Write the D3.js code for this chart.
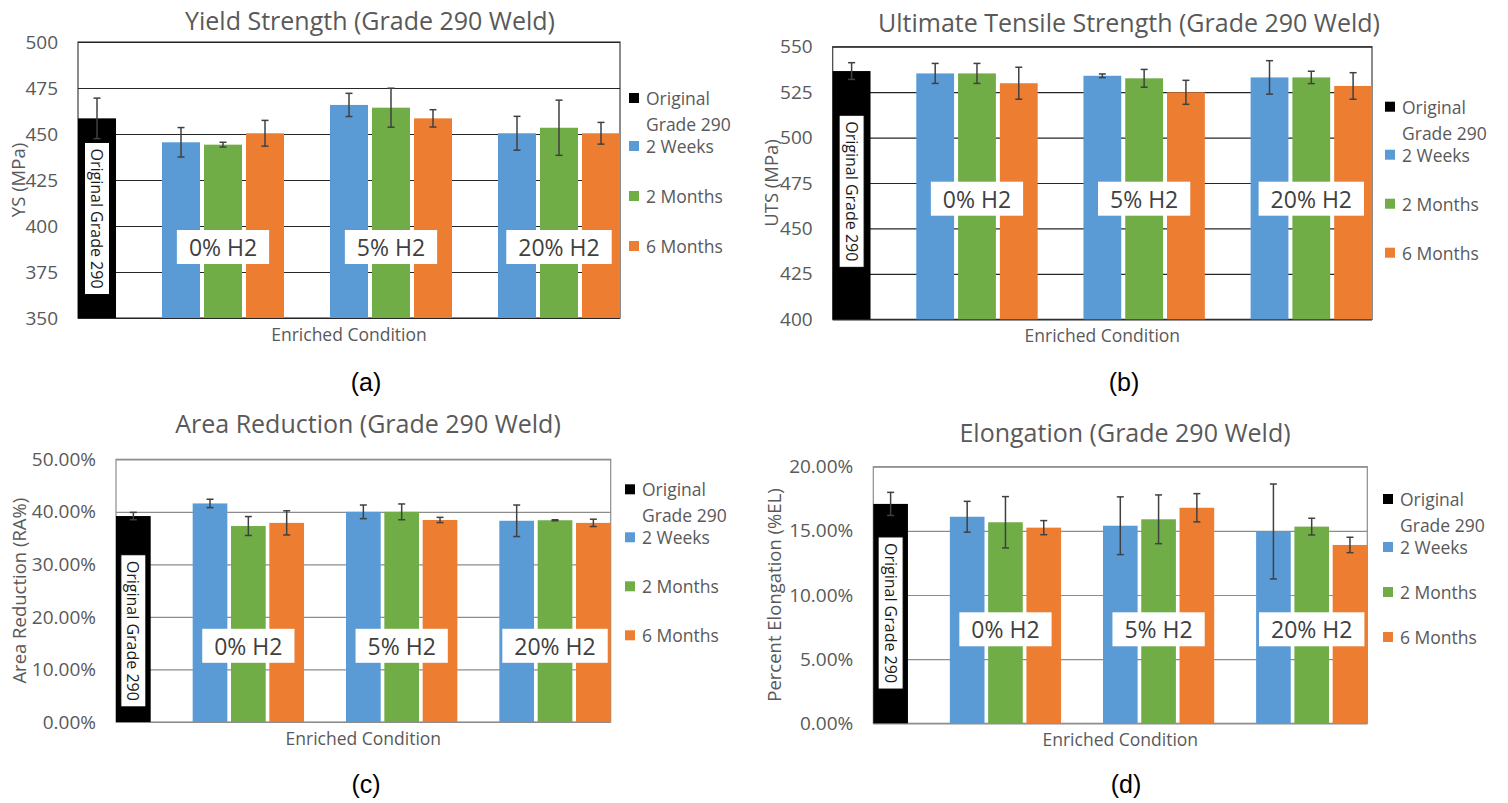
<!DOCTYPE html>
<html>
<head>
<meta charset="utf-8">
<script src="https://cdn.jsdelivr.net/npm/d3@7"></script>
<style>
  html, body { margin: 0; padding: 0; background: #fff; }
  svg { display: block; }
  text { font-family: "Open Sans", "Noto Sans", sans-serif; }
</style>
</head>
<body>
<svg id="fig" width="1508" height="803"></svg>
<script>
// ---- Data -----------------------------------------------------------------
const conditions = ["0% H2", "5% H2", "20% H2"];
const exposures = ["2 Weeks", "2 Months", "6 Months"];
const baselineName = "Original Grade 290";

// Yield strength, MPa
const ysOriginal = 458.5, ysOriginalErr = 11;
const ys2Weeks = [445.5, 465.8, 450.4];
const ys2WeeksErr = [8, 6.3, 9.2];
const ys2Months = [444.2, 464.3, 453.4];
const ys2MonthsErr = [1.3, 10.6, 15];
const ys6Months = [450.4, 458.5, 450.4];
const ys6MonthsErr = [7, 4.7, 5.9];
const ysTicks = [350, 375, 400, 425, 450, 475, 500];

// Ultimate tensile strength, MPa
const utsOriginal = 536.6, utsOriginalErr = 4.6;
const uts2Weeks = [535.3, 534.0, 533.1];
const uts2WeeksErr = [5.5, 1.0, 9.2];
const uts2Months = [535.3, 532.6, 533.1];
const uts2MonthsErr = [5.5, 4.9, 3.4];
const uts6Months = [529.9, 524.9, 528.4];
const uts6MonthsErr = [8.8, 6.6, 7.3];
const utsTicks = [400, 425, 450, 475, 500, 525, 550];

// Area reduction, fraction
const raOriginal = 0.392, raOriginalErr = 0.007;
const ra2Weeks = [0.416, 0.400, 0.383];
const ra2WeeksErr = [0.008, 0.013, 0.030];
const ra2Months = [0.373, 0.400, 0.384];
const ra2MonthsErr = [0.018, 0.015, 0.001];
const ra6Months = [0.379, 0.3845, 0.379];
const ra6MonthsErr = [0.023, 0.005, 0.007];
const raTicks = [0, 0.1, 0.2, 0.3, 0.4, 0.5];

// Elongation, fraction
const elOriginal = 0.171, elOriginalErr = 0.009;
const el2Weeks = [0.161, 0.154, 0.1495];
const el2WeeksErr = [0.012, 0.0225, 0.037];
const el2Months = [0.1567, 0.159, 0.1533];
const el2MonthsErr = [0.020, 0.019, 0.0065];
const el6Months = [0.1525, 0.168, 0.139];
const el6MonthsErr = [0.0055, 0.011, 0.006];
const elTicks = [0, 0.05, 0.10, 0.15, 0.20];

// ---- Styling ----------------------------------------------------------------
const baselineColor = "#000000";
const exposureColors = ["#5B9BD5", "#70AD47", "#ED7D31"];
const textGray = "#595959";
const pct = d3.format(".2%");

// ---- Panel definitions ------------------------------------------------------
const panels = [
  {
    title: "Yield Strength (Grade 290 Weld)", yLabel: "YS (MPa)", tag: "(a)",
    original: ysOriginal, originalErr: ysOriginalErr,
    series: [ys2Weeks, ys2Months, ys6Months], errs: [ys2WeeksErr, ys2MonthsErr, ys6MonthsErr],
    ticks: ysTicks, fmt: d3.format("d"),
    layout: { x0: 78, x1: 620, y0: 42, y1: 318, titleX: 370, titleY: 20, yLabelX: 17,
              legendX: 629, legendY: 98, legendStep: 50, groupLabelY: 247, baseLabelY: 218.5,
              tagX: 366, tagY: 382, grid: "#262626", frame: "#404040" }
  },
  {
    title: "Ultimate Tensile Strength (Grade 290 Weld)", yLabel: "UTS (MPa)", tag: "(b)",
    original: utsOriginal, originalErr: utsOriginalErr,
    series: [uts2Weeks, uts2Months, uts6Months], errs: [uts2WeeksErr, uts2MonthsErr, uts6MonthsErr],
    ticks: utsTicks, fmt: d3.format("d"),
    layout: { x0: 832.7, x1: 1372, y0: 46.7, y1: 319.3, titleX: 1129, titleY: 21.7, yLabelX: 770,
              legendX: 1385, legendY: 106.7, legendStep: 49, groupLabelY: 198.7, baseLabelY: 191.3,
              tagX: 1124, tagY: 382, grid: "#262626", frame: "#404040" }
  },
  {
    title: "Area Reduction (Grade 290 Weld)", yLabel: "Area Reduction (RA%)", tag: "(c)",
    original: raOriginal, originalErr: raOriginalErr,
    series: [ra2Weeks, ra2Months, ra6Months], errs: [ra2WeeksErr, ra2MonthsErr, ra6MonthsErr],
    ticks: raTicks, fmt: pct,
    layout: { x0: 116, x1: 610.7, y0: 459.3, y1: 722, titleX: 368, titleY: 423, yLabelX: 18,
              legendX: 625, legendY: 489.3, legendStep: 49, groupLabelY: 645.8, baseLabelY: 630.8,
              tagX: 366, tagY: 784, grid: "#8c8c8c", frame: "#8c8c8c" }
  },
  {
    title: "Elongation (Grade 290 Weld)", yLabel: "Percent Elongation (%EL)", tag: "(d)",
    original: elOriginal, originalErr: elOriginalErr,
    series: [el2Weeks, el2Months, el6Months], errs: [el2WeeksErr, el2MonthsErr, el6MonthsErr],
    ticks: elTicks, fmt: pct,
    layout: { x0: 873.3, x1: 1367.3, y0: 466.7, y1: 723.3, titleX: 1125, titleY: 432, yLabelX: 773,
              legendX: 1383, legendY: 499, legendStep: 45, groupLabelY: 629.3, baseLabelY: 613,
              tagX: 1126, tagY: 784, grid: "#8c8c8c", frame: "#8c8c8c" }
  }
];

const svg = d3.select("#fig");

panels.forEach(p => drawPanel(p));

function drawPanel(p) {
  const L = p.layout;
  const g = svg.append("g");

  // Bar slots: slot 0 holds the baseline bar, each condition takes three
  // adjacent slots with one empty slot before it.
  const slots = d3.range(3 * conditions.length + 4);
  const x = d3.scaleBand().domain(slots).range([L.x0, L.x1]).paddingInner(0.095).paddingOuter(0);
  const y = d3.scaleLinear().domain(d3.extent(p.ticks)).range([L.y1, L.y0]);

  const bars = [{ slot: 0, value: p.original, err: p.originalErr, color: baselineColor }];
  conditions.forEach((c, ci) => {
    exposures.forEach((e, si) => {
      bars.push({ slot: 2 + 4 * ci + si, value: p.series[si][ci], err: p.errs[si][ci],
                  color: exposureColors[si], cond: ci });
    });
  });

  // Plot frame
  g.append("rect")
    .attr("x", L.x0).attr("y", L.y0)
    .attr("width", L.x1 - L.x0).attr("height", L.y1 - L.y0)
    .attr("fill", "none").attr("stroke", L.frame).attr("stroke-width", 1.2);

  // Gridlines and tick labels
  const yAxis = d3.axisLeft(y).tickValues(p.ticks).tickFormat(p.fmt)
    .tickSize(-(L.x1 - L.x0)).tickPadding(20);
  const ax = g.append("g").attr("transform", `translate(${L.x0},0)`).call(yAxis);
  ax.select(".domain").remove();
  ax.selectAll(".tick line").attr("stroke", L.grid).attr("stroke-width", 1.2);
  ax.selectAll(".tick text")
    .attr("fill", textGray)
    .style("font-size", "19px")
    .style("font-family", '"Open Sans", sans-serif');

  // Bars
  g.selectAll("rect.bar").data(bars).join("rect")
    .attr("class", "bar")
    .attr("x", d => x(d.slot))
    .attr("width", x.bandwidth())
    .attr("y", d => y(d.value))
    .attr("height", d => y(y.domain()[0]) - y(d.value))
    .attr("fill", d => d.color);

  // Error bars
  const cap = 3.5;
  const eb = g.selectAll("g.err").data(bars).join("g").attr("class", "err")
    .attr("stroke", "#404040").attr("stroke-width", 1.5);
  eb.append("line")
    .attr("x1", d => x(d.slot) + x.bandwidth() / 2).attr("x2", d => x(d.slot) + x.bandwidth() / 2)
    .attr("y1", d => y(d.value + d.err)).attr("y2", d => y(d.value - d.err));
  eb.append("line")
    .attr("x1", d => x(d.slot) + x.bandwidth() / 2 - cap).attr("x2", d => x(d.slot) + x.bandwidth() / 2 + cap)
    .attr("y1", d => y(d.value + d.err)).attr("y2", d => y(d.value + d.err));
  eb.append("line")
    .attr("x1", d => x(d.slot) + x.bandwidth() / 2 - cap).attr("x2", d => x(d.slot) + x.bandwidth() / 2 + cap)
    .attr("y1", d => y(d.value - d.err)).attr("y2", d => y(d.value - d.err));

  // Condition labels in white boxes, centred on each group
  conditions.forEach((c, ci) => {
    const gx0 = x(2 + 4 * ci), gx1 = x(4 + 4 * ci) + x.bandwidth();
    const cx = (gx0 + gx1) / 2;
    const lg = g.append("g");
    const t = lg.append("text")
      .attr("x", cx).attr("y", L.groupLabelY)
      .attr("text-anchor", "middle").attr("dominant-baseline", "central")
      .attr("fill", "#404040").style("font-size", "23px")
      .text(c);
    const w = t.node().getComputedTextLength();
    lg.insert("rect", "text")
      .attr("x", cx - w / 2 - 12).attr("y", L.groupLabelY - 17)
      .attr("width", w + 24).attr("height", 34)
      .attr("fill", "#fff");
  });

  // Vertical baseline label inside the black bar
  const bx = x(0) + x.bandwidth() / 2;
  const bl = g.append("g").attr("transform", `translate(${bx},${L.baseLabelY}) rotate(90)`);
  const bt = bl.append("text")
    .attr("x", 0).attr("y", 0)
    .attr("text-anchor", "middle").attr("dominant-baseline", "central")
    .attr("fill", "#1a1a1a").style("font-size", "16px")
    .text(baselineName);
  const bw = bt.node().getComputedTextLength();
  bl.insert("rect", "text")
    .attr("x", -bw / 2 - 6).attr("y", -12.5)
    .attr("width", bw + 12).attr("height", 25)
    .attr("fill", "#fff").attr("stroke", "#000").attr("stroke-width", 1);

  // Title
  g.append("text")
    .attr("x", L.titleX).attr("y", L.titleY)
    .attr("text-anchor", "middle").attr("dominant-baseline", "central")
    .attr("fill", textGray).style("font-size", "25px")
    .text(p.title);

  // Axis titles
  g.append("text")
    .attr("transform", `translate(${L.yLabelX},${(L.y0 + L.y1) / 2}) rotate(-90)`)
    .attr("text-anchor", "middle").attr("dominant-baseline", "central")
    .attr("fill", textGray).style("font-size", "18.5px")
    .text(p.yLabel);
  g.append("text")
    .attr("x", (L.x0 + L.x1) / 2).attr("y", L.y1 + 16)
    .attr("text-anchor", "middle").attr("dominant-baseline", "central")
    .attr("fill", textGray).style("font-size", "17.5px")
    .text("Enriched Condition");

  // Legend
  const legendItems = [
    { lines: ["Original", "Grade 290"], color: baselineColor, dy: 0 },
    { lines: [exposures[0]], color: exposureColors[0], dy: 48 },
    { lines: [exposures[1]], color: exposureColors[1], dy: 48 + L.legendStep },
    { lines: [exposures[2]], color: exposureColors[2], dy: 48 + 2 * L.legendStep }
  ];
  const leg = g.append("g");
  legendItems.forEach(it => {
    const ly = L.legendY + it.dy;
    leg.append("rect")
      .attr("x", L.legendX).attr("y", ly - 5)
      .attr("width", 10).attr("height", 10)
      .attr("fill", it.color);
    it.lines.forEach((ln, li) => {
      leg.append("text")
        .attr("x", L.legendX + 17).attr("y", ly + li * 26)
        .attr("dominant-baseline", "central")
        .attr("fill", textGray).style("font-size", "17.5px")
        .text(ln);
    });
  });

  // Sub-figure tag
  g.append("text")
    .attr("x", L.tagX).attr("y", L.tagY)
    .attr("text-anchor", "middle").attr("dominant-baseline", "central")
    .attr("fill", "#000")
    .style("font-family", '"Liberation Sans", Arial, sans-serif')
    .style("font-size", "25px")
    .text(p.tag);
}
</script>
</body>
</html>
